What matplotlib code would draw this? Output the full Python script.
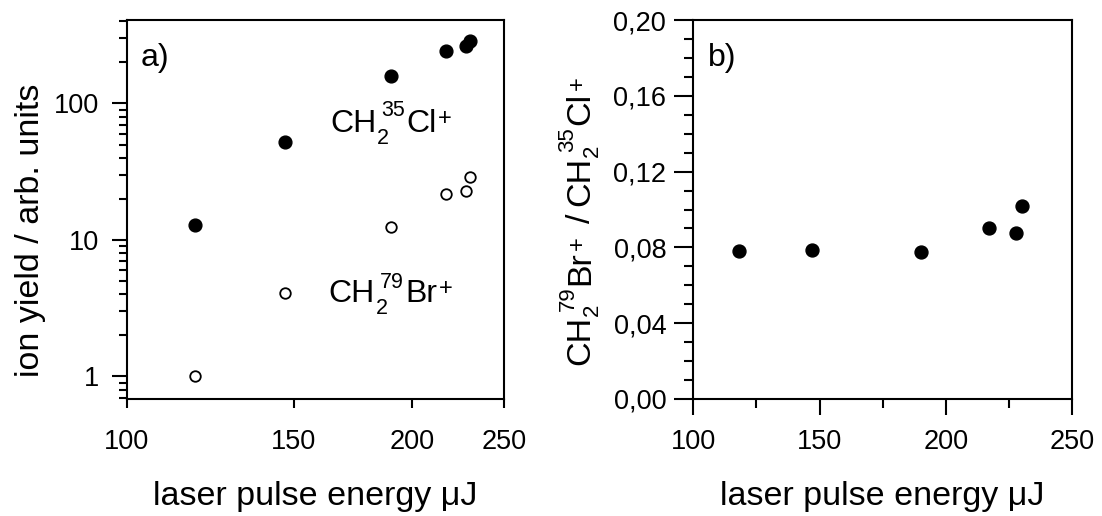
import matplotlib
matplotlib.use("Agg")
import math
import matplotlib.pyplot as plt
from matplotlib.ticker import FixedLocator, FixedFormatter, LogLocator, NullFormatter
from matplotlib.transforms import offset_copy

plt.rcParams['font.family'] = ['Liberation Sans', 'DejaVu Sans']

# pulse energies (µJ)
energy = [118, 147, 190, 217, 228, 230]
# ion yields (arb. units)
cl_yield = [12.8, 52, 159, 242, 263, 286]
br_yield = [1.0, 4.1, 12.4, 21.6, 22.8, 28.9]
# CH2(79)Br+ / CH2(35)Cl+ ratio
ratio = [0.078, 0.0785, 0.0776, 0.090, 0.0875, 0.102]

x_ticks = [100, 150, 200, 250]
x_tick_labels = ['100', '150', '200', '250']
y_ticks_a = [1, 10, 100]
y_tick_labels_a = ['1', '10', '100']
y_ticks_b = [0.00, 0.04, 0.08, 0.12, 0.16, 0.20]
y_tick_labels_b = ['0,00', '0,04', '0,08', '0,12', '0,16', '0,20']

W, H = 1102, 516
fig = plt.figure(figsize=(W / 100, H / 100), dpi=100)
ax1 = fig.add_axes([126.7 / W, (H - 399) / H, 377.5 / W, 379 / H])
ax2 = fig.add_axes([693.3 / W, (H - 399) / H, 378.7 / W, 379 / H])
renderer = fig.canvas.get_renderer()


def draw_formula(ax, x, y, pieces, transform, rotation=0, gap=1.5):
    """Write a chemical formula piece by piece.

    pieces: (text, fontsize, rise_px, kind, shift_px) with kind 'main', 'sub' or 'sup'.
    A main piece starts shift_px after the previous content; scripts start
    shift_px after the end of the preceding main piece.
    """
    ang = math.radians(rotation)
    ca, sa = math.cos(ang), math.sin(ang)
    cursor = 0.0
    script_end = None
    for text, size, rise, kind, shift in pieces:
        if kind == 'main':
            if script_end is not None:
                cursor = script_end + gap
                script_end = None
        start = cursor + shift
        dx = start * ca - rise * sa
        dy = start * sa + rise * ca
        t = ax.text(x, y, text, fontsize=size, rotation=rotation, rotation_mode='anchor',
                    ha='left', va='baseline',
                    transform=offset_copy(transform, fig=ax.figure, x=dx, y=dy, units='dots'))
        ext = t.get_window_extent(renderer)
        w = ext.height if rotation else ext.width
        if kind == 'main':
            cursor = start + w
        else:
            script_end = max(script_end or 0.0, start + w)


lw = 1.5
tick_fs = 19.5
label_fs = 24.5

for ax in (ax1, ax2):
    for sp in ax.spines.values():
        sp.set_linewidth(lw)
    ax.tick_params(which='both', direction='out', width=lw, top=False, right=False,
                   labelsize=tick_fs)

# ---- panel a: ion yields on log-log axes ----
ax1.set_xscale('log')
ax1.set_yscale('log')
ax1.set_xlim(100, 250)
ax1.set_ylim(0.684, 409)
ax1.plot(energy, cl_yield, 'o', color='black', ms=9.2, ls='none')
ax1.plot(energy, br_yield, 'o', mfc='white', mec='black', mew=1.3, ms=7.6, ls='none')

ax1.xaxis.set_major_locator(FixedLocator(x_ticks))
ax1.xaxis.set_major_formatter(FixedFormatter(x_tick_labels))
ax1.xaxis.set_minor_locator(FixedLocator([100]))
ax1.xaxis.set_minor_formatter(NullFormatter())
ax1.tick_params(axis='x', which='major', length=6.5, pad=15)
ax1.tick_params(axis='x', which='minor', length=11.5)

ax1.yaxis.set_major_locator(FixedLocator(y_ticks_a))
ax1.yaxis.set_major_formatter(FixedFormatter(y_tick_labels_a))
ax1.yaxis.set_minor_locator(LogLocator(base=10, subs=[2, 3, 4, 5, 6, 7, 8, 9]))
ax1.yaxis.set_minor_formatter(NullFormatter())
ax1.tick_params(axis='y', which='major', length=10.8, pad=9)
ax1.tick_params(axis='y', which='minor', length=6)

ax1.set_xlabel('laser pulse energy μJ', fontsize=label_fs, labelpad=19)
ax1.set_ylabel('ion yield / arb. units', fontsize=label_fs, labelpad=6, y=0.446)

ax1.text(0.036, 0.94, 'a)', transform=ax1.transAxes, fontsize=23, va='top', ha='left')

big, small, plus = 23, 15.5, 17
draw_formula(ax1, 0.5385, 0.7053,
             [('CH', big, 0, 'main', 0), ('2', small, -12, 'sub', 1),
              ('35', small, 15.5, 'sup', 5), ('Cl', big, 0, 'main', 0),
              ('+', plus, 7, 'sup', 1.5)],
             ax1.transAxes)
draw_formula(ax1, 0.534, 0.2567,
             [('CH', big, 0, 'main', 0), ('2', small, -12, 'sub', 1),
              ('79', small, 13.5, 'sup', 5), ('Br', big, 0, 'main', 0),
              ('+', plus, 7, 'sup', 1.5)],
             ax1.transAxes)

# ---- panel b: yield ratio on linear axes ----
ax2.set_xlim(100, 250)
ax2.set_ylim(0.0, 0.20)
ax2.plot(energy, ratio, 'o', color='black', ms=9.3, ls='none')

ax2.xaxis.set_major_locator(FixedLocator(x_ticks))
ax2.xaxis.set_major_formatter(FixedFormatter(x_tick_labels))
ax2.xaxis.set_minor_locator(FixedLocator([125, 175, 225]))
ax2.tick_params(axis='x', which='major', length=11.5, pad=10)
ax2.tick_params(axis='x', which='minor', length=6.5)

ax2.yaxis.set_major_locator(FixedLocator(y_ticks_b))
ax2.yaxis.set_major_formatter(FixedFormatter(y_tick_labels_b))
ax2.yaxis.set_minor_locator(FixedLocator([i / 100 for i in range(0, 21) if i % 4]))
ax2.tick_params(axis='y', which='major', length=13.5, pad=6)
ax2.tick_params(axis='y', which='minor', length=6.3)

ax2.set_xlabel('laser pulse energy μJ', fontsize=label_fs, labelpad=19)
ax2.text(0.04, 0.94, 'b)', transform=ax2.transAxes, fontsize=23, va='top', ha='left')

# rotated ratio label to the left of panel b
lab, scr, pl = 24.5, 16, 17
draw_formula(ax2, 589.5 / W, (H - 365) / H,
             [('CH', lab, 0, 'main', 0), ('2', scr, -8.5, 'sub', 0),
              ('79', scr, 16, 'sup', 5), ('Br', lab, 0, 'main', 0),
              ('+', pl, 6, 'sup', 1.5), ('/', lab, 0, 'main', 11),
              ('CH', lab, 0, 'main', 8), ('2', scr, -8.5, 'sub', 0),
              ('35', scr, 16, 'sup', 5), ('Cl', lab, 0, 'main', 0),
              ('+', pl, 6, 'sup', 3)],
             fig.transFigure, rotation=90)

fig.savefig('out.png', dpi=100)
